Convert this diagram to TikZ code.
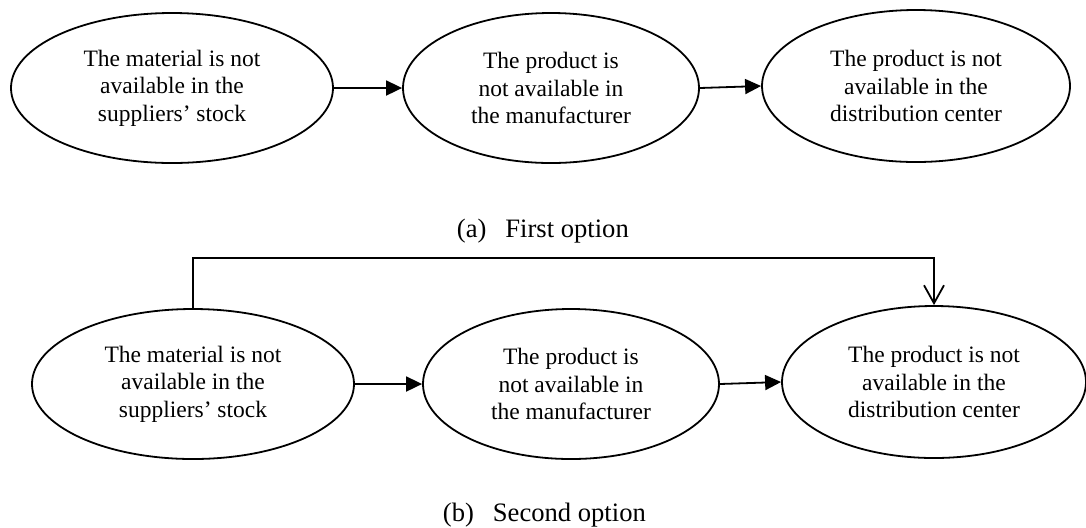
\documentclass[tikz,border=0pt]{standalone}
\usepackage{fontspec}
\setmainfont{Liberation Serif}
\usetikzlibrary{arrows.meta,shapes.geometric}
\begin{document}
\begin{tikzpicture}[x=0.5pt,y=-0.5pt,
  line width=0.9pt,
  ev/.style={ellipse,draw,line width=0.9pt,inner sep=0pt,align=center,
    font=\fontsize{11.75pt}{13.7pt}\selectfont},
  solid arrow/.style={-{Triangle[length=8pt,width=7.5pt]}},
  open arrow/.style={-{Straight Barb[length=9pt,width=10pt,line width=0.9pt]}},
  captext/.style={anchor=base west,inner sep=0pt,font=\fontsize{13.3pt}{15pt}\selectfont}]
\useasboundingbox (0,0) rectangle (1086,527);
% (a) first option
\node[ev,minimum width=161pt,minimum height=75pt] (a1) at (172,88)
  {The material is not\\available in the\\suppliers’ stock};
\node[ev,minimum width=148pt,minimum height=75pt] (a2) at (551,88)
  {The product is\\not available in\\the manufacturer};
\node[ev,minimum width=154pt,minimum height=76pt] (a3) at (916,86)
  {The product is not\\available in the\\distribution center};
\draw[solid arrow] (a1.east) -- (a2.west);
\draw[solid arrow] (a2.east) -- (a3.west);
\node[captext] (capa) at (456,237) {(a)\hspace{9.5pt}First option};
% (b) second option
\node[ev,minimum width=161pt,minimum height=75pt] (b1) at (193,384)
  {The material is not\\available in the\\suppliers’ stock};
\node[ev,minimum width=148pt,minimum height=75pt] (b2) at (571,384)
  {The product is\\not available in\\the manufacturer};
\node[ev,minimum width=152pt,minimum height=76pt] (b3) at (934,382)
  {The product is not\\available in the\\distribution center};
\draw[solid arrow] (b1.east) -- (b2.west);
\draw[solid arrow] (b2.east) -- (b3.west);
\coordinate (top) at (0,258);
\draw[open arrow] (b1.north) -- (b1.north |- top) -| (b3.north);
\node[captext] (capb) at (442,521) {(b)\hspace{9.5pt}Second option};
\end{tikzpicture}
\end{document}
